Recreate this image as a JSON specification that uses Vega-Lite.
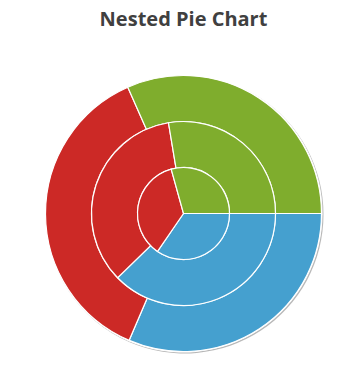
{
  "$schema": "https://vega.github.io/schema/vega-lite/v6.json",
  "width": 361,
  "height": 389,
  "autosize": {"type": "fit", "contains": "padding"},
  "padding": {"left": 8, "right": 2, "top": 10, "bottom": 5},
  "background": "white",
  "title": {
    "text": "Nested Pie Chart",
    "font": "Open Sans",
    "fontSize": 20,
    "fontWeight": "bold",
    "color": "#404040",
    "anchor": "middle",
    "offset": 13
  },
  "data": {
    "values": [
      {"ring": "outer", "category": "Blue", "order": 1, "value": 113.2},
      {"ring": "outer", "category": "Red", "order": 2, "value": 133.0},
      {"ring": "outer", "category": "Green", "order": 3, "value": 113.8},
      {"ring": "middle", "category": "Blue", "order": 1, "value": 135.7},
      {"ring": "middle", "category": "Red", "order": 2, "value": 124.9},
      {"ring": "middle", "category": "Green", "order": 3, "value": 99.4},
      {"ring": "inner", "category": "Blue", "order": 1, "value": 124.4},
      {"ring": "inner", "category": "Red", "order": 2, "value": 130.1},
      {"ring": "inner", "category": "Green", "order": 3, "value": 105.5}
    ]
  },
  "encoding": {
    "theta": {"field": "value", "type": "quantitative", "stack": true, "scale": {"range": [1.5707963, 7.8539816]}},
    "order": {"field": "order", "type": "quantitative"}
  },
  "layer": [
    {
      "transform": [{"filter": "datum.ring === 'outer'"}],
      "mark": {"type": "arc", "radius": 139, "radius2": 0, "fill": "#9a9a9a", "opacity": 0.7, "xOffset": 1, "yOffset": 1}
    },
    {
      "transform": [{"filter": "datum.ring === 'outer'"}],
      "mark": {"type": "arc", "radius": 139, "radius2": 0, "fill": "white"}
    },
    {
      "transform": [{"filter": "datum.ring === 'outer'"}],
      "mark": {"type": "arc", "radius": 138, "radius2": 92, "stroke": "white", "strokeWidth": 1.2},
      "encoding": {"color": {"field": "category", "type": "nominal", "scale": {"domain": ["Blue", "Red", "Green"], "range": ["#45a0cf", "#cc2926", "#7fad2d"]}, "legend": null}}
    },
    {
      "transform": [{"filter": "datum.ring === 'middle'"}],
      "mark": {"type": "arc", "radius": 92, "radius2": 46, "stroke": "white", "strokeWidth": 1.2},
      "encoding": {"color": {"field": "category", "type": "nominal", "legend": null}}
    },
    {
      "transform": [{"filter": "datum.ring === 'inner'"}],
      "mark": {"type": "arc", "radius": 46, "radius2": 0, "stroke": "white", "strokeWidth": 1.2},
      "encoding": {"color": {"field": "category", "type": "nominal", "legend": null}}
    }
  ],
  "config": {"view": {"stroke": null}}
}
